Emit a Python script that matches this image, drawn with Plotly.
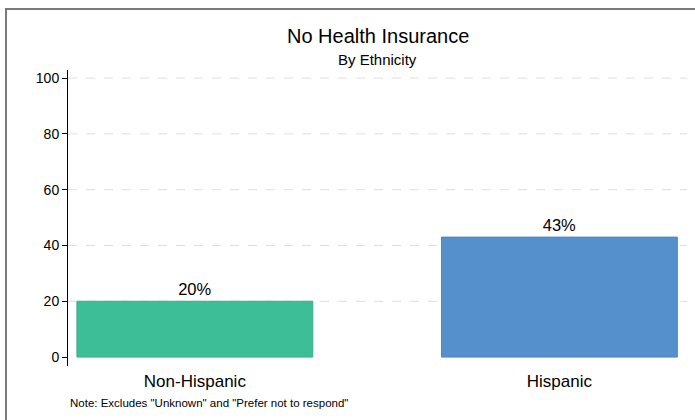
import plotly.graph_objects as go

categories = ["Non-Hispanic", "Hispanic"]
values = [20, 43]
labels = ["20%", "43%"]
bar_colors = ["#3dbe96", "#5590cc"]
line_colors = ["#35b08a", "#4a86c4"]
y_ticks = [0, 20, 40, 60, 80, 100]
title = "No Health Insurance"
subtitle = "By Ethnicity"
note = 'Note: Excludes "Unknown" and "Prefer not to respond"'

FONT = "Liberation Sans, Arial, sans-serif"

fig = go.Figure()
fig.add_trace(go.Bar(
    x=categories, y=values, text=labels, textposition="outside",
    textfont=dict(size=16.5, color="black", family=FONT),
    marker=dict(color=bar_colors, line=dict(color=line_colors, width=1)),
    width=0.647, cliponaxis=False, showlegend=False,
))

L, R, T, B = 68, 8, 70, 54
W, H = 695, 420
pw, ph = W - L - R, H - T - B

shapes = []
for v in y_ticks:
    if v == 0:
        continue
    shapes.append(dict(type="line", xref="paper", yref="y", x0=0, x1=1, y0=v, y1=v,
                       line=dict(color="#dedede", width=1, dash="dash"), layer="below"))
# outer border of graph region
shapes.append(dict(type="rect", xref="paper", yref="paper",
                   x0=(6 - L) / pw, x1=(W + 20 - L) / pw,
                   y0=-(H + 20 - (T + ph)) / ph, y1=(T + ph - 9) / ph,
                   line=dict(color="#7a7a7a", width=2), fillcolor="rgba(0,0,0,0)"))

fig.update_layout(
    width=W, height=H,
    margin=dict(l=L, r=R, t=T, b=B),
    paper_bgcolor="white", plot_bgcolor="white",
    font=dict(family=FONT, color="black"),
    shapes=shapes,
    xaxis=dict(range=[-0.348, 1.35], showline=False, showgrid=False, zeroline=False,
               ticks="", tickfont=dict(size=17, family=FONT, color="black"), ticklabelstandoff=3),
    yaxis=dict(range=[-3.2, 102.9], showline=True, linecolor="black", linewidth=1,
               showgrid=False, zeroline=False, tickvals=y_ticks, ticks="outside",
               ticklen=5, tickcolor="black", tickfont=dict(size=14, family=FONT, color="black")),
    annotations=[
        dict(text=title, xref="paper", yref="paper", x=0.5, y=(T + ph - 36) / ph,
             showarrow=False, font=dict(size=20, family=FONT, color="black"), yanchor="middle"),
        dict(text=subtitle, xref="paper", yref="paper", x=0.5, y=(T + ph - 59) / ph,
             showarrow=False, font=dict(size=15, family=FONT, color="black"), yanchor="middle"),
        dict(text=note, xref="paper", yref="paper", x=(68 - L) / pw, y=-(403 - (T + ph)) / ph,
             xanchor="left", yanchor="middle", showarrow=False,
             font=dict(size=11.5, family=FONT, color="black")),
    ],
)

fig.write_html("out.html")
